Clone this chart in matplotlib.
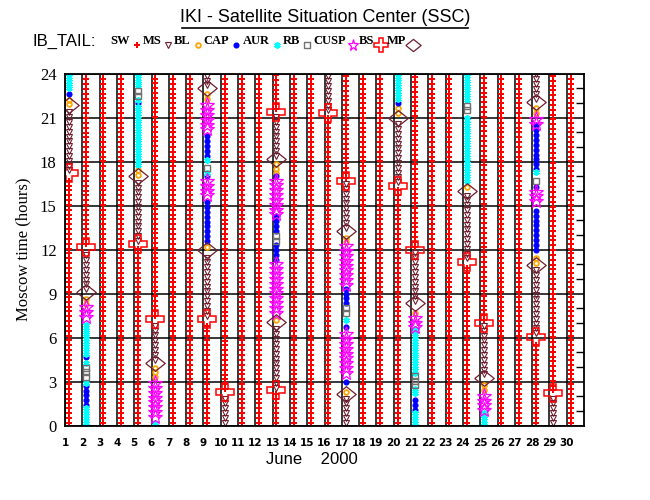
import matplotlib
matplotlib.use("Agg")
import matplotlib.pyplot as plt
from matplotlib.lines import Line2D
import numpy as np

# day labels along the bottom
day_labels = [str(d) for d in range(1, 31)]
hour_ticks = [0, 3, 6, 9, 12, 15, 18, 21, 24]

# region spans: (day, start hour, end hour)
sw_spans = [(1, 0.2, 17.0), (2, 12.4, 24), (3, 0.2, 24), (4, 0.2, 24), (5, 0.2, 12.2),
            (6, 7.5, 24), (7, 0.2, 24), (8, 0.2, 24), (9, 0.2, 7.1), (10, 2.5, 24),
            (11, 0.2, 24), (12, 0.2, 24), (13, 0.2, 2.2), (13, 21.6, 24), (14, 0.2, 24),
            (15, 0.2, 24), (16, 0.2, 21.1), (17, 16.9, 24), (18, 0.2, 24), (19, 0.2, 24),
            (20, 0.2, 16.1), (21, 12.2, 24), (22, 0.2, 24), (23, 0.2, 24), (24, 0.2, 10.9),
            (25, 7.2, 24), (26, 0.2, 24), (27, 0.2, 24), (28, 0.2, 5.8), (29, 2.4, 24),
            (30, 0.2, 24)]
ms_spans = [(1, 17.4, 21.6), (2, 9.3, 11.9), (5, 12.6, 16.7), (6, 4.5, 7.1), (9, 7.5, 11.7),
            (9, 23.2, 24), (10, 0.2, 2.0), (13, 2.6, 6.8), (13, 18.4, 21.2), (16, 21.5, 24),
            (17, 0.2, 1.9), (17, 13.5, 16.5), (20, 16.6, 20.8), (21, 8.5, 11.8),
            (24, 11.4, 15.8), (25, 3.5, 6.8), (28, 6.3, 10.7), (28, 22.3, 24), (29, 0.2, 1.95)]
bl_spans = [(1, 21.9, 22.4), (2, 8.3, 8.9), (5, 17.1, 17.6), (6, 3.3, 4.0), (9, 12.2, 12.4),
            (9, 22.3, 22.8), (13, 7.2, 7.5), (13, 17.2, 17.9), (17, 2.3, 2.6), (17, 12.5, 13.0),
            (20, 21.3, 21.7), (21, 7.7, 8.0), (24, 16.3, 16.5), (25, 2.45, 3.0),
            (28, 11.1, 11.6), (28, 21.3, 21.85)]
cap_spans = [(1, 22.6, 22.8), (2, 1.4, 2.8), (2, 4.7, 4.7), (5, 22.0, 22.0), (9, 12.6, 15.5),
             (9, 17.0, 17.0), (9, 18.4, 20.0), (13, 11.3, 12.4), (13, 13.3, 14.3),
             (13, 17.0, 17.0), (17, 3.0, 3.3), (17, 6.7, 7.0), (17, 8.35, 9.4),
             (20, 22.0, 22.0), (21, 1.1, 1.9), (28, 12.0, 14.8), (28, 16.3, 16.3),
             (28, 17.5, 20.5)]
aur_spans = [(1, 23.0, 24), (2, 0.2, 1.2), (2, 2.9, 3.2), (2, 4.3, 4.5), (2, 4.9, 7.2),
             (5, 17.8, 21.8), (5, 22.2, 22.4), (5, 23.2, 24), (6, 0.2, 0.4), (9, 17.2, 17.4),
             (9, 18.1, 18.2), (17, 7.2, 7.4), (20, 22.3, 24), (21, 0.2, 0.9), (21, 2.2, 2.6),
             (21, 3.6, 6.6), (24, 16.7, 21.3), (24, 22.2, 24), (25, 0.2, 0.9), (28, 17.3, 17.3)]
rb_spans = [(2, 3.3, 4.1), (5, 22.5, 23.0), (9, 17.6, 17.9), (13, 12.6, 13.1), (17, 7.7, 8.1),
            (21, 2.75, 3.45), (24, 21.5, 22.0), (28, 16.7, 17.0)]
cusp_spans = [(2, 7.4, 8.1), (6, 0.6, 3.1), (9, 15.7, 16.7), (9, 20.2, 22.1), (13, 7.7, 11.1),
              (13, 14.4, 16.7), (17, 3.6, 6.5), (17, 9.6, 12.3), (21, 6.7, 7.55),
              (25, 1.05, 2.2), (28, 15.3, 16.0), (28, 20.6, 21.0)]

# boundary crossings
bs_days = [1, 2, 5, 6, 9, 10, 13, 13, 16, 17, 20, 21, 24, 25, 28, 29]
bs_hours = [17.2, 12.15, 12.4, 7.3, 7.3, 2.3, 2.4, 21.4, 21.3, 16.7, 16.35, 12.0, 11.15, 7.0, 6.05, 2.2]
mp_days = [1, 2, 5, 6, 9, 9, 13, 13, 17, 17, 20, 21, 24, 25, 28, 28]
mp_hours = [21.85, 9.13, 17.0, 4.27, 12.0, 23.0, 7.05, 18.2, 2.15, 13.3, 21.0, 8.35, 16.0, 3.25, 10.95, 22.1]

W, H = 650, 500
fig = plt.figure(figsize=(6.5, 5), dpi=100)
ax = fig.add_axes([65 / W, 1 - 425.7 / H, (584 - 65) / W, (425.7 - 73.7) / H])
ax.set_xlim(1, 31)
ax.set_ylim(0, 24)

step = 0.33  # sampling cadence, hours
off = 0.22   # column offset inside each day

brown = "#6e1f2f"
wide_diamond = [(-1, 0), (0, 0.8), (1, 0), (0, -0.8), (-1, 0)]
styles = {
    "SW": dict(marker="P", ms=4.0, color="red", mew=0),
    "MS": dict(marker="v", ms=3.8, mfc="none", mec=brown, mew=0.8),
    "BL": dict(marker="o", ms=3.4, mfc="none", mec="orange", mew=1.3),
    "CAP": dict(marker="o", ms=3.4, color="blue", mec="blue"),
    "AUR": dict(marker=(6, 2, 0), ms=4.6, mec="cyan", mew=1.3),
    "RB": dict(marker="s", ms=4.0, mfc="none", mec="#707070", mew=1.0),
    "CUSP": dict(marker="*", ms=11, mfc="none", mec="magenta", mew=0.9),
    "BS": dict(marker="P", ms=13, mfc="none", mec="red", mew=1.1),
    "MP": dict(marker=wide_diamond, ms=14, mfc="none", mec=brown, mew=0.9),
}


def draw(spans, st):
    xs, ys = [], []
    for d, t0, t1 in spans:
        tt = np.arange(t0, t1 + 0.01, step)
        if len(tt) == 0:
            tt = [t0]
        xs += [d + off] * len(tt)
        ys += list(tt)
    ax.plot(xs, ys, ls="none", **st)


draw(sw_spans, styles["SW"])
draw(ms_spans, styles["MS"])
draw(bl_spans, styles["BL"])
draw(cap_spans, styles["CAP"])
draw(aur_spans, styles["AUR"])
draw(rb_spans, styles["RB"])
draw(cusp_spans, styles["CUSP"])
ax.plot(np.array(bs_days) + off, bs_hours, ls="none", **styles["BS"])
ax.plot(np.array(mp_days) + off, mp_hours, ls="none", **styles["MP"])

# grid and axes
ax.set_xticks(range(1, 31))
ax.set_xticklabels(day_labels, fontsize=7.5, fontweight="bold", family="DejaVu Sans")
ax.set_yticks(hour_ticks)
ax.set_yticklabels([str(h) for h in hour_ticks], fontsize=12, family="Liberation Serif")
ax.grid(True, color="black", lw=1.1)
ax.set_axisbelow(True)
ax.tick_params(axis="x", length=0, pad=9)
ax.tick_params(axis="y", length=0, pad=6)
ax.set_yticks([h for h in range(1, 24) if h % 3], minor=True)
ax.tick_params(axis="y", which="minor", left=False, right=True, direction="in", length=6, width=1)
for s in ax.spines.values():
    s.set_linewidth(1.3)

ax.set_ylabel("Moscow time (hours)", fontsize=12, family="Liberation Serif", labelpad=6)
fig.text(312 / W, 1 - 459 / H, "June    2000", ha="center", va="center", fontsize=12,
         family="Liberation Sans")

# title
fig.text(325 / W, 1 - 17 / H, "IKI - Satellite Situation Center (SSC)", ha="center",
         va="center", fontsize=13, family="Liberation Sans")
fig.add_artist(Line2D([182 / W, 468 / W], [1 - 28 / H, 1 - 28 / H], color="black", lw=1.2))

# legend row
fig.text(33 / W, 1 - 41 / H, "IB_TAIL:", ha="left", va="center", fontsize=12,
         family="Liberation Sans")
renderer = fig.canvas.get_renderer()
cx = 110
for name in ["SW", "MS", "BL", "CAP", "AUR", "RB", "CUSP", "BS", "MP"]:
    t = fig.text(cx / W, 1 - 41 / H, name, ha="left", va="center", fontsize=9,
                 fontweight="bold", family="Liberation Serif")
    bb = t.get_window_extent(renderer)
    mx = bb.x1 + 7
    st = dict(styles[name])
    if name in ("BS", "CUSP"):
        st["ms"] = st["ms"] * 0.75
    if name == "MP":
        st["ms"] = 11
    fig.add_artist(Line2D([mx / W], [1 - 45 / H], ls="none", **st))
    cx = mx + 6

fig.savefig("out.png", dpi=100)
